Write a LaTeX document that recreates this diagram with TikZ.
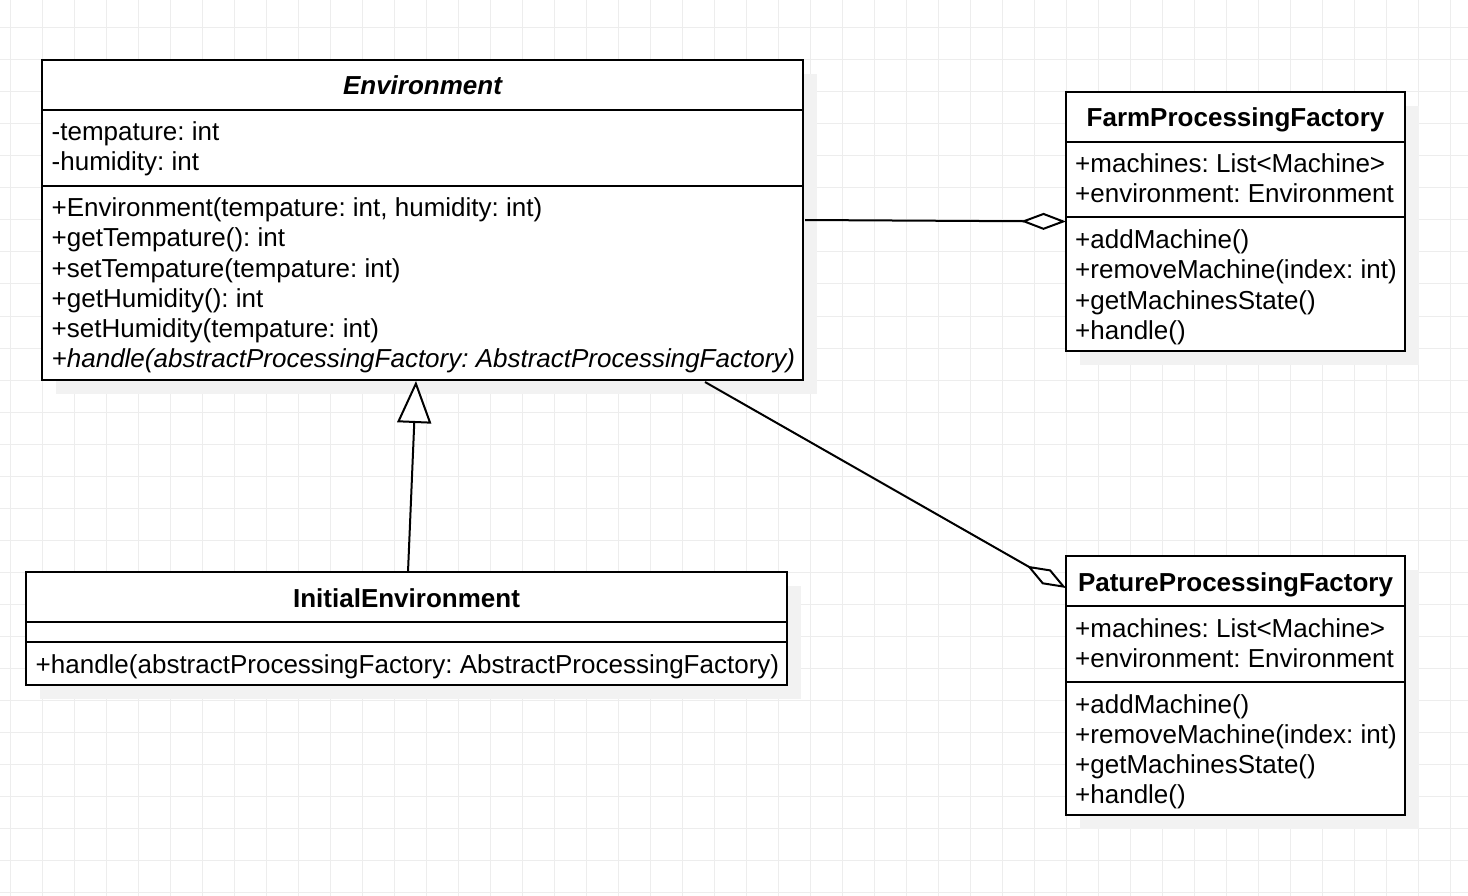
\documentclass[tikz,border=0pt]{standalone}
\usepackage{fontspec}
\setmainfont{Liberation Sans}
\usetikzlibrary{arrows.meta,calc}
\begin{document}
\frenchspacing
\begin{tikzpicture}[x=1pt,y=-1pt,
  gridline/.style={draw=black!7, line width=1pt},
  shadowbox/.style={fill=black!5, draw=none},
  classbox/.style={draw=black, line width=2pt, fill=white, rectangle, inner sep=0pt},
  txt/.style={anchor=base west, inner sep=0pt, font=\fontsize{26}{30}\selectfont\frenchspacing},
  ttl/.style={anchor=base, inner sep=0pt, font=\fontsize{26}{30}\selectfont\bfseries\frenchspacing},
  sep/.style={line width=2pt},
  conn/.style={line width=2pt},
  agg/.style={-{Diamond[length=45pt,width=17pt,fill=white]}},
  gen/.style={-{Triangle[length=42pt,width=34pt,fill=white]}}
]
\useasboundingbox (0,0) rectangle (1468,896);
\fill[white] (0,0) rectangle (1468,896);
% grid
\foreach \x in {10.5,42.5,...,1468} \draw[gridline] (\x,0) -- (\x,896);
\foreach \y in {-4,28,...,896} \draw[gridline] (0,\y) -- (1468,\y);

% shadows
\fill[shadowbox] (56,74) rectangle (817,394);
\fill[shadowbox] (1080,106) rectangle (1419,365);
\fill[shadowbox] (1080,570) rectangle (1419,829);
\fill[shadowbox] (40,586) rectangle (801,699);

% class boxes
\node[classbox, minimum width=761pt, minimum height=320pt] (env) at (422.5,220) {};
\node[classbox, minimum width=339pt, minimum height=259pt] (farm) at (1235.5,221.5) {};
\node[classbox, minimum width=339pt, minimum height=259pt] (pature) at (1235.5,685.5) {};
\node[classbox, minimum width=761pt, minimum height=113pt] (initial) at (406.5,628.5) {};

% separators
\draw[sep] (env.west |- 0,110) -- (env.east |- 0,110);
\draw[sep] (env.west |- 0,186) -- (env.east |- 0,186);
\draw[sep] (farm.west |- 0,142) -- (farm.east |- 0,142);
\draw[sep] (farm.west |- 0,217) -- (farm.east |- 0,217);
\draw[sep] (pature.west |- 0,606) -- (pature.east |- 0,606);
\draw[sep] (pature.west |- 0,682) -- (pature.east |- 0,682);
\draw[sep] (initial.west |- 0,622) -- (initial.east |- 0,622);
\draw[sep] (initial.west |- 0,642) -- (initial.east |- 0,642);

% Environment
\node[ttl] (envt) at (422.5,95) {\itshape Environment};
\node[txt] (ea1) at (51.5,141) {-tempature: int};
\node[txt] (ea2) at (51.5,171) {-humidity: int};
\node[txt] (em1) at (51.5,217) {+Environment(tempature: int, humidity: int)};
\node[txt] (em2) at (51.5,247) {+getTempature(): int};
\node[txt] (em3) at (51.5,277) {+setTempature(tempature: int)};
\node[txt] (em4) at (51.5,307) {+getHumidity(): int};
\node[txt] (em5) at (51.5,337) {+setHumidity(tempature: int)};
\node[txt] (em6) at (51.5,367) {\itshape +handle(abstractProcessingFactory: AbstractProcessingFactory)};

% FarmProcessingFactory
\node[ttl] (farmt) at (1235.5,127) {FarmProcessingFactory};
\node[txt] (fa1) at (1075,173) {+machines: List<Machine>};
\node[txt] (fa2) at (1075,203) {+environment: Environment};
\node[txt] (fm1) at (1075,249) {+addMachine()};
\node[txt] (fm2) at (1075,279) {+removeMachine(index: int)};
\node[txt] (fm3) at (1075,309) {+getMachinesState()};
\node[txt] (fm4) at (1075,339) {+handle()};

% PatureProcessingFactory
\node[ttl] (patt) at (1235.5,591) {PatureProcessingFactory};
\node[txt] (pa1) at (1075,637) {+machines: List<Machine>};
\node[txt] (pa2) at (1075,667) {+environment: Environment};
\node[txt] (pm1) at (1075,713) {+addMachine()};
\node[txt] (pm2) at (1075,743) {+removeMachine(index: int)};
\node[txt] (pm3) at (1075,773) {+getMachinesState()};
\node[txt] (pm4) at (1075,803) {+handle()};

% InitialEnvironment
\node[ttl] (initt) at (406.5,607) {InitialEnvironment};
\node[txt] (im1) at (35.5,673) {+handle(abstractProcessingFactory: AbstractProcessingFactory)};

% connectors
\coordinate (c1s) at (805,220);
\coordinate (c1e) at (1066,221.5);
\draw[conn,agg] (c1s) -- (c1e);
\coordinate (c2s) at (705,382);
\coordinate (c2e) at (1066,588);
\draw[conn,agg] (c2s) -- (c2e);
\coordinate (c3s) at (408,572);
\coordinate (c3e) at (416,381);
\draw[conn,gen] (c3s) -- (c3e);
\end{tikzpicture}
\end{document}
